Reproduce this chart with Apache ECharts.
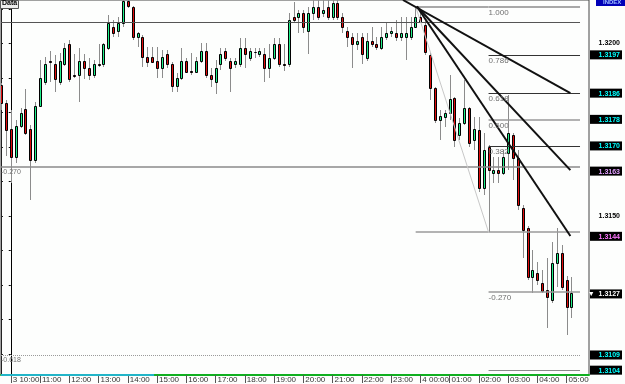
<!DOCTYPE html>
<html><head><meta charset="utf-8">
<script src="https://cdn.jsdelivr.net/npm/echarts@6.0.0/dist/echarts.min.js"></script>
<style>html,body{margin:0;padding:0;background:#fdfefd;}#chart{width:625px;height:384px;}</style>
</head><body><div id="chart"></div>
<script>
// ---------- data ----------
const firstSlot = -2; // slot of the first bar, relative to "3 10:00"
const opens = [1.31880,1.31827,1.31752,1.31671,1.31761,1.31810,1.31752,1.31662,1.31819,1.31888,1.31949,1.31940,1.31888,1.31940,1.31998,1.31909,1.31909,1.31949,1.31929,1.31909,1.31940,1.31940,1.31987,1.32048,1.32036,1.32059,1.32123,1.32106,1.32019,1.32019,1.31961,1.31961,1.31949,1.31929,1.31969,1.31940,1.31877,1.31900,1.31949,1.31920,1.31917,1.31949,1.31978,1.31909,1.31888,1.31940,1.31978,1.31949,1.31940,1.31940,1.31987,1.31958,1.31975,1.31969,1.31969,1.31929,1.31958,1.31998,1.31940,1.31940,1.32077,1.32077,1.32088,1.32036,1.32088,1.32106,1.32088,1.32106,1.32077,1.32117,1.32077,1.32036,1.32019,1.31998,1.32019,1.31958,1.32007,1.31998,1.31987,1.32019,1.32030,1.32030,1.32019,1.32019,1.32019,1.32048,1.32077,1.32054,1.31967,1.31871,1.31778,1.31787,1.31798,1.31842,1.31735,1.31769,1.31813,1.31720,1.31749,1.31581,1.31700,1.31625,1.31633,1.31625,1.31683,1.31735,1.31668,1.31523,1.31465,1.31323,1.31335,1.31306,1.31285,1.31256,1.31364,1.31393,1.31314,1.31236];
const highs = [1.31885,1.31836,1.31807,1.31778,1.31813,1.31868,1.31764,1.31830,1.31952,1.31961,1.31978,1.31967,1.31972,1.32001,1.32010,1.31969,1.31987,1.31969,1.31958,1.31952,1.31998,1.32001,1.32083,1.32068,1.32077,1.32140,1.32140,1.32109,1.32033,1.32025,1.31990,1.31990,1.31990,1.31981,1.31981,1.31946,1.31914,1.31987,1.31958,1.31972,1.31961,1.32001,1.32001,1.31929,1.31952,1.31987,1.31987,1.31958,1.31958,1.32016,1.32016,1.31987,1.31987,1.31987,1.31987,1.31998,1.32016,1.32016,1.31998,1.32088,1.32120,1.32097,1.32097,1.32106,1.32130,1.32130,1.32130,1.32130,1.32130,1.32130,1.32088,1.32048,1.32030,1.32030,1.32030,1.32030,1.32048,1.32019,1.32048,1.32059,1.32048,1.32068,1.32077,1.32077,1.32077,1.32108,1.32088,1.32068,1.31972,1.31874,1.31807,1.31807,1.31909,1.31845,1.31784,1.31894,1.31816,1.31787,1.31787,1.31740,1.31706,1.31671,1.31671,1.31691,1.31852,1.31740,1.31691,1.31532,1.31471,1.31401,1.31367,1.31343,1.31378,1.31424,1.31465,1.31416,1.31326,1.31323];
const lows = [1.31807,1.31674,1.31596,1.31654,1.31755,1.31735,1.31546,1.31654,1.31816,1.31880,1.31888,1.31859,1.31880,1.31935,1.31888,1.31900,1.31830,1.31897,1.31894,1.31900,1.31932,1.31932,1.31981,1.32019,1.32019,1.32048,1.32103,1.32010,1.31990,1.31932,1.31932,1.31943,1.31900,1.31900,1.31929,1.31859,1.31859,1.31894,1.31914,1.31909,1.31914,1.31943,1.31900,1.31874,1.31854,1.31923,1.31949,1.31859,1.31929,1.31932,1.31929,1.31949,1.31958,1.31961,1.31888,1.31900,1.31952,1.31932,1.31920,1.31932,1.32062,1.32030,1.32030,1.31969,1.32068,1.32068,1.32077,1.32068,1.32068,1.32068,1.32030,1.31990,1.31929,1.31981,1.31940,1.31949,1.31990,1.31981,1.31981,1.32010,1.32019,1.32007,1.32007,1.31952,1.32010,1.32045,1.32059,1.31967,1.31836,1.31769,1.31720,1.31758,1.31778,1.31700,1.31720,1.31764,1.31700,1.31691,1.31569,1.31561,1.31453,1.31596,1.31596,1.31619,1.31633,1.31604,1.31517,1.31378,1.31314,1.31277,1.31300,1.31277,1.31175,1.31248,1.31294,1.31285,1.31155,1.31204];
const closes = [1.31827,1.31749,1.31671,1.31761,1.31798,1.31740,1.31662,1.31819,1.31900,1.31940,1.31946,1.31897,1.31949,1.31987,1.31897,1.31906,1.31949,1.31929,1.31909,1.31940,1.31938,1.31998,1.32059,1.32030,1.32059,1.32123,1.32109,1.32019,1.32030,1.31961,1.31946,1.31946,1.31929,1.31961,1.31940,1.31877,1.31900,1.31949,1.31917,1.31918,1.31949,1.31978,1.31909,1.31897,1.31929,1.31969,1.31958,1.31929,1.31949,1.31987,1.31969,1.31978,1.31974,1.31978,1.31929,1.31958,1.31998,1.31940,1.31939,1.32068,1.32068,1.32088,1.32048,1.32088,1.32106,1.32077,1.32097,1.32077,1.32117,1.32077,1.32048,1.32019,1.31998,1.32007,1.31969,1.32007,1.31998,1.31990,1.32019,1.32030,1.32036,1.32019,1.32030,1.32030,1.32048,1.32077,1.32062,1.31975,1.31871,1.31778,1.31790,1.31798,1.31839,1.31720,1.31769,1.31813,1.31711,1.31752,1.31581,1.31691,1.31633,1.31633,1.31625,1.31671,1.31740,1.31668,1.31532,1.31459,1.31323,1.31343,1.31314,1.31282,1.31265,1.31364,1.31393,1.31294,1.31236,1.31277];

const hourTicks = [0,6,12,18,24,30,36,42,48,54,60,66,72,78,84,90,96,102,108,114];
const hourLabels = ['3 10:00','11:00','12:00','13:00','14:00','15:00','16:00','17:00','18:00','19:00','20:00','21:00','22:00','23:00','4 00:00','01:00','02:00','03:00','04:00','05:00'];
const priceTicks = [1.311,1.312,1.313,1.314,1.315,1.316,1.317,1.318,1.319,1.320,1.321];
const priceLabels = [1.3200,1.3150];
const tagPrices = [1.31967,1.31856,1.31780,1.31703,1.31630,1.31441,1.31274,1.31097,1.31053];
const tagTexts = ['1.3197','1.3186','1.3178','1.3170','1.3163','1.3144','1.3127','1.3109','1.3104'];
const tagKinds = ['c','c','c','c','m','n','b','c','c'];

// right Fibonacci retracement (levels)
const fibLevels = [1.32107,1.31967,1.31856,1.31780,1.31703,1.31453,1.31280,1.31053];
const fibLabels = ['1.000','0.786','0.618','0.500','0.382','','-0.270',''];
const fibHighSlot = 83.05, fibLowSlot = 98, fibEndSlot = 116.76;

// left (large) Fibonacci levels
const bigFibLevels = [1.32062,1.31642,1.31097];
const bigFibLabels = ['','-0.270','-0.618'];

const fanStarts = [[80.44,1.32126],[83.3,1.32107],[83.3,1.32107]];
const fanEnds = [[114.78,1.31856],[114.78,1.31633],[114.78,1.31442]];

// ---------- styles ----------
const YMIN = 1.31039, YMAX = 1.32126, XMIN = -2, XMAX = 118.6;
const GREEN = '#1ef08a', RED = '#e00c0c';
const fibStyles = [
  {color:'#a8a8a8',width:2,type:'solid'},{color:'#333',width:1,type:'solid'},{color:'#333',width:1,type:'solid'},{color:'#999',width:1.5,type:'solid'},
  {color:'#333',width:1,type:'solid'},{color:'#9a9a9a',width:1.5,type:'solid'},{color:'#9a9a9a',width:1.5,type:'solid'},{color:'#8a8a8a',width:1,type:'solid'}
];
const bigFibStyles = [{color:'#555',width:1,type:'solid'},{color:'#8a8a8a',width:1.5,type:'solid'},{color:'#9a9a9a',width:1,type:'dotted'}];
const lblStyle = {show:true, position:'insideStartBottom', distance:[0,2], color:'#707070', fontSize:8, fontFamily:'Liberation Sans'};

const candleData = opens.map((o,i)=>[i+firstSlot, o, closes[i], lows[i], highs[i]]);

function renderCandle(params, api){
  const k = api.value(0), o = api.value(1), c = api.value(2), l = api.value(3), h = api.value(4);
  const pO = api.coord([k,o]), pC = api.coord([k,c]), pH = api.coord([k,h]), pL = api.coord([k,l]);
  const rx = Math.round(pO[0]);
  const top = Math.round(Math.min(pO[1],pC[1])), bot = Math.round(Math.max(pO[1],pC[1]));
  return {type:'group', children:[
    {type:'line', shape:{x1:rx+0.5,y1:Math.round(pH[1]),x2:rx+0.5,y2:Math.round(pL[1])}, style:{stroke:'#8c8c8c',lineWidth:1}},
    {type:'rect', shape:{x:rx-0.5,y:top+0.5,width:2,height:Math.max(bot-top,0)}, style:{fill:c>=o?GREEN:RED, stroke:'#000', lineWidth:1}}
  ]};
}

const lines = [];
bigFibLevels.forEach((p,i)=>{
  const s = {coord:[XMIN,p], lineStyle:bigFibStyles[i]};
  if (bigFibLabels[i]) s.label = Object.assign({}, lblStyle, {formatter:bigFibLabels[i], fontSize:7});
  lines.push([s,{coord:[fibEndSlot,p]}]);
});
fibLevels.forEach((p,i)=>{
  const st = fibStyles[i];
  if (i===0 || i===5) lines.push([{coord:[fibHighSlot,p], lineStyle:st},{coord:[fibLowSlot,p]}]);
  const s = {coord:[fibLowSlot,p], lineStyle:st};
  if (fibLabels[i]) s.label = Object.assign({}, lblStyle, {formatter:fibLabels[i]});
  lines.push([s,{coord:[fibEndSlot,p]}]);
});
lines.push([{coord:[fibHighSlot,fibLevels[0]], lineStyle:{color:'#c8c8c8',width:1,type:'solid'}},{coord:[fibLowSlot,fibLevels[5]]}]);
fanStarts.forEach((s,i)=>{
  lines.push([{coord:s, lineStyle:{color:'#111',width:2,type:'solid'}},{coord:fanEnds[i]}]);
});
lines.push([{coord:[XMIN,YMIN], lineStyle:{color:'#22b5c8',width:2,type:'solid'}},{coord:[29.4,YMIN]}]);

const tagRich = {
  p:{color:'#000',fontWeight:'bold',fontSize:7,fontFamily:'Liberation Sans',width:30,align:'right',padding:[0,2,0,0]},
  c:{color:'#00ffff',backgroundColor:'#000',fontWeight:'bold',fontSize:7,fontFamily:'Liberation Sans',width:28,height:8,align:'right',padding:[1,2,0,2]},
  m:{color:'#e2a0ff',backgroundColor:'#000',fontWeight:'bold',fontSize:7,fontFamily:'Liberation Sans',width:28,height:8,align:'right',padding:[1,2,0,2]},
  n:{color:'#ff78ff',backgroundColor:'#000',fontWeight:'bold',fontSize:7,fontFamily:'Liberation Sans',width:28,height:8,align:'right',padding:[1,2,0,2]},
  b:{color:'#ffffff',backgroundColor:'#000',fontWeight:'bold',fontSize:7,fontFamily:'Liberation Sans',width:28,height:8,align:'right',padding:[1,2,0,2]}
};
function tagFormatter(v){
  const t = tagPrices.findIndex(p=>Math.abs(p-v)<1e-7);
  if (t>=0) {
    const kind = tagKinds[t];
    return '{'+kind+'|'+(kind==='b'?'\u25BC  ':'')+tagTexts[t]+'}';
  }
  return '{p|'+v.toFixed(4)+'}';
}

const chart = echarts.init(document.getElementById('chart'), null, {renderer:'canvas'});
chart.setOption({
  animation:false,
  backgroundColor:'#fdfefd',
  grid:{left:1,right:33,top:0,bottom:9,show:true,borderColor:'#444',borderWidth:1,backgroundColor:'transparent'},
  xAxis:{type:'value',min:XMIN,max:XMAX,
    axisLine:{show:true,onZero:false,lineStyle:{color:'#10b020',width:2}},
    axisTick:{show:true,customValues:hourTicks,length:8,lineStyle:{color:'#555'}},
    axisLabel:{show:true,customValues:hourTicks,formatter:v=>hourLabels[hourTicks.indexOf(v)],align:'left',margin:1,padding:[0,0,0,2],fontSize:8,fontFamily:'Liberation Sans',color:'#333'},
    splitLine:{show:false}},
  yAxis:[
    {type:'value',position:'right',min:YMIN,max:YMAX,
      axisLine:{show:true,lineStyle:{color:'#000'}},
      axisTick:{show:true,inside:true,length:2,customValues:priceTicks,lineStyle:{color:'#000'}},
      axisLabel:{show:true,customValues:priceLabels.concat(tagPrices),formatter:tagFormatter,margin:1,rich:tagRich},
      splitLine:{show:false}},
    {type:'value',position:'left',min:YMIN,max:YMAX,
      axisLine:{show:true,lineStyle:{color:'#222'}},
      axisTick:{show:true,inside:true,length:2,customValues:priceTicks,lineStyle:{color:'#222'}},
      axisLabel:{show:false},splitLine:{show:false}}
  ],
  series:[
    {type:'custom',name:'Data',renderItem:renderCandle,data:candleData,encode:{x:0,y:[1,2,3,4]},clip:true,xAxisIndex:0,yAxisIndex:0,z:3},
    {type:'line',data:[],xAxisIndex:0,yAxisIndex:0,z:4,
      markLine:{silent:true,animation:false,symbol:['none','none'],lineStyle:{type:'solid'},label:{show:false},emphasis:{disabled:true},data:lines}}
  ],
  graphic:[
    {type:'rect',left:0,top:0,shape:{width:18,height:8},style:{fill:'#eeeeee',stroke:'#555',lineWidth:1},z:100},
    {type:'text',left:2,top:0,style:{text:'Data',font:'bold 7px Liberation Sans',fill:'#000'},z:101},
    {type:'rect',left:596,top:0,shape:{width:29,height:6},style:{fill:'#0000b8'},z:100},
    {type:'text',left:603,top:-1,style:{text:'INDEX',font:'bold 6px Liberation Sans',fill:'#9fbfff'},z:101}
  ]
});
</script></body></html>
